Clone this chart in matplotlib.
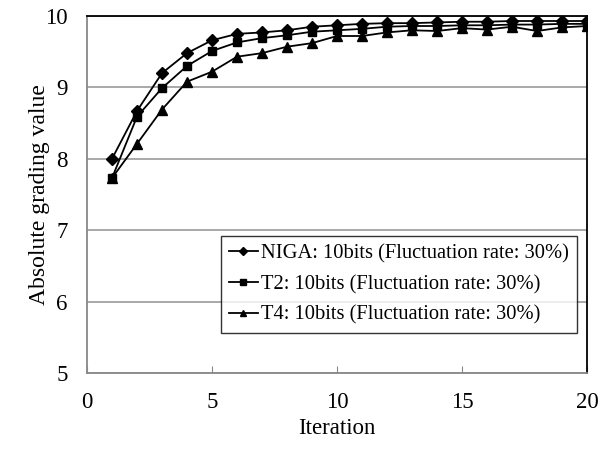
import numpy as np
import matplotlib.pyplot as plt

plt.rcParams['font.family'] = ['Liberation Serif', 'DejaVu Serif']

iterations = list(range(1, 21))
niga = [8.00, 8.67, 9.20, 9.48, 9.66, 9.75, 9.77, 9.80, 9.85, 9.87,
        9.89, 9.90, 9.90, 9.91, 9.92, 9.92, 9.93, 9.93, 9.93, 9.93]
t2 = [7.73, 8.59, 8.99, 9.30, 9.51, 9.63, 9.69, 9.73, 9.78, 9.80,
      9.82, 9.85, 9.86, 9.86, 9.87, 9.87, 9.88, 9.88, 9.89, 9.89]
t4 = [7.73, 8.21, 8.69, 9.08, 9.22, 9.43, 9.48, 9.57, 9.62, 9.72,
      9.72, 9.77, 9.80, 9.79, 9.83, 9.81, 9.85, 9.79, 9.84, 9.86]
labels = ['NIGA: 10bits (Fluctuation rate: 30%)',
          'T2: 10bits (Fluctuation rate: 30%)',
          'T4: 10bits (Fluctuation rate: 30%)']

fig = plt.figure(figsize=(6.14, 4.51), dpi=100)
ax = fig.add_axes([0.1417, 0.173, 0.8143, 0.7915])

ax.plot(iterations, niga, color='black', lw=1.3, marker='D', ms=6.5, label=labels[0], zorder=5)
ax.plot(iterations, t2, color='black', lw=1.3, marker='s', ms=6, label=labels[1], zorder=4)
ax.plot(iterations, t4, color='black', lw=1.3, marker='^', ms=7, label=labels[2], zorder=3)

ax.set_xlim(0, 20)
ax.set_ylim(5, 10)
ax.set_xticks([0, 5, 10, 15, 20])
ax.set_yticks([5, 6, 7, 8, 9, 10])
ax.yaxis.grid(True, color='#999999', lw=1.2)
ax.set_axisbelow(True)

for side in ['left', 'bottom']:
    ax.spines[side].set_color('#888888')
    ax.spines[side].set_linewidth(1.3)
for side in ['top', 'right']:
    ax.spines[side].set_color('black')
    ax.spines[side].set_linewidth(1.3)

ax.tick_params(axis='x', direction='in', length=5, color='#888888', labelsize=16.5, pad=14)
ax.tick_params(axis='y', length=0, labelsize=16.5, pad=14)

ax.set_xlabel('Iteration', fontsize=16.5, labelpad=3)
ax.set_ylabel('Absolute grading value', fontsize=17)
ax.yaxis.set_label_coords(-0.074, 0.5)

leg = ax.legend(loc='lower right', bbox_to_anchor=(0.98, 0.112), fontsize=14.8,
                frameon=True, fancybox=False, edgecolor='black', handlelength=1.4,
                handletextpad=0.15, labelspacing=0.55, borderpad=0.4, markerscale=0.7,
                borderaxespad=0)
leg.get_frame().set_linewidth(1.0)

fig.savefig('out.png', dpi=100)
